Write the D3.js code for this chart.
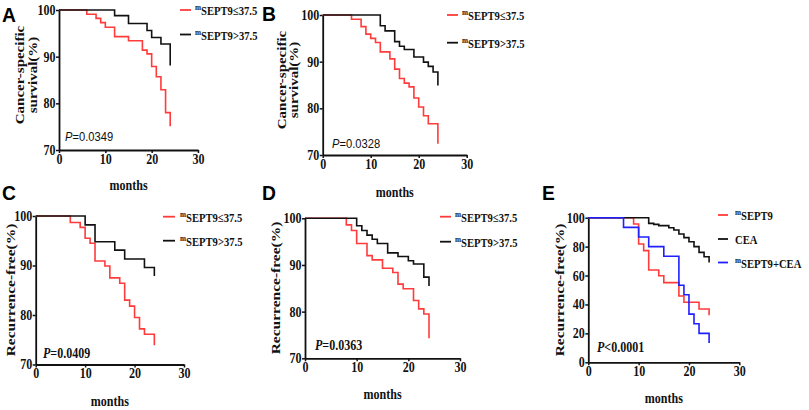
<!DOCTYPE html>
<html>
<head>
<meta charset="utf-8">
<script src="https://cdn.jsdelivr.net/npm/d3@7"></script>
<style>
  body { margin: 0; background: #fff; }
  svg { display: block; }
</style>
</head>
<body>
<div id="graf"></div>
<script>
// Datos (meses, % supervivencia / libre de recurrencia)
const meses = [0, 10, 20, 30];
const ticksSup = [70, 80, 90, 100];
const ticksE = [0, 20, 40, 60, 80, 100];

const aBajo = [[0,100],[6,99.1],[8,98.2],[9,97.3],[10,96.3],[12,94.3],[15,93.4],[18,91.4],[19,90.6],[20,87.9],[21,85.7],[22,82.9],[23,78],[24,75.1]];
const aAlto = [[0,100],[12,98.8],[15,97.1],[19,95.6],[20,94.1],[22,92.7],[24,88.1]];

const bBajo = [[0,100],[6,99.1],[8,97.5],[9,95.9],[10,95],[11,94.1],[12,92.1],[14,90.6],[15,88.4],[16,86.4],[17,85.4],[18,84.6],[19,82.2],[20,80.3],[21,78.4],[22,76.7],[24,72.4]];
const bAlto = [[0,100],[12,97.7],[13,96.6],[15,94.3],[16,93.3],[17,92.6],[19,91],[21,89.9],[22,89],[23,87.8],[24,84.9]];

const cBajo = [[0,100],[7,98.7],[9,97.7],[10,95.5],[11,94.5],[12,90.9],[14,89.9],[15,87.5],[17,86.4],[18,83],[19,81.8],[20,79.5],[21,77.2],[22,76.1],[24,73.9]];
const cAlto = [[0,100],[10,98.2],[12,94.8],[16,93.1],[18,91.3],[22,89.6],[24,87.9]];

const dBajo = [[0,100],[8,98.6],[9,97.4],[10,94.6],[12,92],[13,91.1],[15,89.3],[17,88.4],[18,85.9],[19,84.9],[21,82.4],[22,80.6],[23,79.5],[24,74.3]];
const dAlto = [[0,100],[10,98.4],[11,97.4],[12,96.4],[13,95.5],[14,94.6],[16,92.6],[18,91.8],[20,90.9],[21,90.2],[23,87.4],[24,85.5]];

const eSept9 = [[0,100],[9,95.6],[10,81.8],[11,77.2],[12,63.8],[14,59.9],[15,55.1],[18,45.9],[19,41.5],[22,36.9],[24,32.5]];
const eCea = [[0,100],[12,96.1],[13,95.4],[14,94.5],[16,93.1],[17,91.5],[18,88.7],[19,86.2],[20,83.4],[21,80],[22,76],[23,73],[24,69]];
const eAmbos = [[0,100],[7,93.3],[10,86.7],[12,80],[15,73.3],[18,53.3],[19,46.7],[20,33.3],[21,26.7],[22,20],[24,13.3]];

const leyendaSept = ["SEPT9\u226437.5", "SEPT9>37.5"];
const supSept = ["m", "m"];
const leyendaE = ["SEPT9", "CEA", "SEPT9+CEA"];
const supE = ["m", "", "m"];
const pValores = ["=0.0349", "=0.0328", "=0.0409", "=0.0363", "<0.0001"];

// Estilos
const rojo = "#ff3b3b", negro = "#111", azul = "#1f1fff";
const serif = "'Liberation Serif','Times New Roman',serif";
const sans = "'Liberation Sans',Arial,sans-serif";
const sx = 0.86; // texto algo comprimido en horizontal, como en la figura

const svg = d3.select("#graf").append("svg").attr("width", 809).attr("height", 410);

// Disposición de cada panel
const paneles = [
  { letra: "A", lx: 2, ly: 22, x0: 59, x1: 198, y0: 10, y1: 150, dom: [70, 100], ticks: ticksSup,
    series: [aBajo, aAlto], colores: [rojo, negro], leyenda: leyendaSept, sup: supSept,
    legX: [180, 191, 195], legY: [10, 34.5], p: pValores[0], pSans: true, pX: 65, pY: 141,
    ylab: ["Cancer-specific", "survival(%)"], ylabX: [24, 37], ylabY: 75, ylabSize: 15, mesY: 190 },
  { letra: "B", lx: 262, ly: 21, x0: 322.7, x1: 466.7, y0: 15, y1: 155, dom: [70, 100], ticks: ticksSup,
    series: [bBajo, bAlto], colores: [rojo, negro], leyenda: leyendaSept, sup: supSept,
    legX: [447, 458, 462], legY: [15, 42.7], p: pValores[1], pSans: true, pX: 332, pY: 148,
    ylab: ["Cancer-specific", "survival(%)"], ylabX: [286, 298], ylabY: 80, ylabSize: 15, mesY: 197 },
  { letra: "C", lx: 2, ly: 200, x0: 35.7, x1: 184, y0: 216, y1: 364.5, dom: [70, 100], ticks: ticksSup,
    series: [cBajo, cAlto], colores: [rojo, negro], leyenda: leyendaSept, sup: supSept,
    legX: [163, 175, 180], legY: [216.7, 240.7], p: pValores[2], pSans: false, pX: 43, pY: 358,
    ylab: ["Recurrence-free(%)"], ylabX: [15], ylabY: 290, ylabSize: 15.5, mesY: 406 },
  { letra: "D", lx: 262, ly: 200, x0: 305, x1: 460, y0: 218.3, y1: 358.3, dom: [70, 100], ticks: ticksSup,
    series: [dBajo, dAlto], colores: [rojo, negro], leyenda: leyendaSept, sup: supSept,
    legX: [440, 451, 455], legY: [216.7, 241.7], p: pValores[3], pSans: false, pX: 315, pY: 350,
    ylab: ["Recurrence-free(%)"], ylabX: [280], ylabY: 288, ylabSize: 15.5, mesY: 399 },
  { letra: "E", lx: 542, ly: 200, x0: 588.3, x1: 739.3, y0: 217.7, y1: 362.3, dom: [0, 100], ticks: ticksE,
    series: [eSept9, eCea, eAmbos], colores: [rojo, negro, azul], leyenda: leyendaE, sup: supE,
    legX: [718, 728, 735], legY: [215, 239, 262.5], p: pValores[4], pSans: false, pX: 597, pY: 352,
    ylab: ["Recurrence-free(%)"], ylabX: [564], ylabY: 290, ylabSize: 15.5, mesY: 403 },
];

const dibujarPanel = (p) => {
  const x = d3.scaleLinear().domain([0, 30]).range([p.x0, p.x1]);
  const y = d3.scaleLinear().domain(p.dom).range([p.y1, p.y0]);
  const g = svg.append("g");

  // Ejes
  const ejeX = g.append("g")
    .attr("transform", `translate(0,${p.y1})`)
    .call(d3.axisBottom(x).tickValues(meses).tickSize(3).tickSizeOuter(0).tickPadding(1));
  const ejeY = g.append("g")
    .attr("transform", `translate(${p.x0},0)`)
    .call(d3.axisLeft(y).tickValues(p.ticks).tickSize(3).tickSizeOuter(0).tickPadding(1));

  [ejeX, ejeY].forEach((eje) => {
    eje.attr("font-family", serif).attr("font-size", 14).attr("font-weight", "bold");
    eje.select(".domain").attr("stroke", negro).attr("stroke-width", 1.8);
    eje.selectAll(".tick line").attr("stroke", negro).attr("stroke-width", 1.5);
    eje.selectAll("text").attr("fill", negro).attr("transform", `scale(${sx},1)`);
  });

  // Curvas Kaplan-Meier
  const linea = d3.line()
    .x((d) => x(d[0]))
    .y((d) => y(d[1]))
    .curve(d3.curveStepAfter);
  p.series.forEach((s, i) => {
    g.append("path")
      .attr("d", linea(s))
      .attr("fill", "none")
      .attr("stroke", p.colores[i])
      .attr("stroke-width", 1.6);
  });

  // Leyenda
  p.leyenda.forEach((txt, i) => {
    const ly = p.legY[i];
    g.append("line")
      .attr("x1", p.legX[0]).attr("x2", p.legX[1])
      .attr("y1", ly).attr("y2", ly)
      .attr("stroke", p.colores[i]).attr("stroke-width", 1.8);
    const t = g.append("text")
      .attr("transform", `translate(${p.legX[2]},${ly + 5}) scale(0.85,1)`)
      .attr("font-family", serif).attr("font-weight", "bold").attr("font-size", 12.5)
      .attr("fill", negro);
    if (p.sup[i]) {
      t.append("tspan").attr("font-size", 8.5).attr("dy", -5).text(p.sup[i]);
      t.append("tspan").attr("dy", 5).text(txt);
    } else {
      t.append("tspan").text(txt);
    }
  });

  // Valor P
  const pt = g.append("text")
    .attr("transform", `translate(${p.pX},${p.pY}) scale(${sx},1)`)
    .attr("font-family", p.pSans ? sans : serif)
    .attr("font-weight", p.pSans ? "normal" : "bold")
    .attr("font-size", p.pSans ? 13 : 14)
    .attr("fill", negro);
  pt.append("tspan").attr("font-style", "italic").text("P");
  pt.append("tspan").text(p.p);

  // Título eje Y
  p.ylab.forEach((txt, i) => {
    g.append("text")
      .attr("transform", `translate(${p.ylabX[i]},${p.ylabY}) scale(${sx},1) rotate(-90)`)
      .attr("text-anchor", "middle")
      .attr("font-family", serif).attr("font-weight", "bold").attr("font-size", p.ylabSize)
      .attr("fill", negro)
      .text(txt);
  });

  // Título eje X
  g.append("text")
    .attr("transform", `translate(${(p.x0 + p.x1) / 2},${p.mesY}) scale(${sx},1)`)
    .attr("text-anchor", "middle")
    .attr("font-family", serif).attr("font-weight", "bold").attr("font-size", 14)
    .attr("fill", negro)
    .text("months");

  // Letra del panel
  g.append("text")
    .attr("transform", `translate(${p.lx},${p.ly}) scale(0.92,1)`)
    .attr("font-family", sans).attr("font-weight", "bold").attr("font-size", 21)
    .attr("fill", "#000")
    .text(p.letra);
};

paneles.forEach(dibujarPanel);
</script>
</body>
</html>
